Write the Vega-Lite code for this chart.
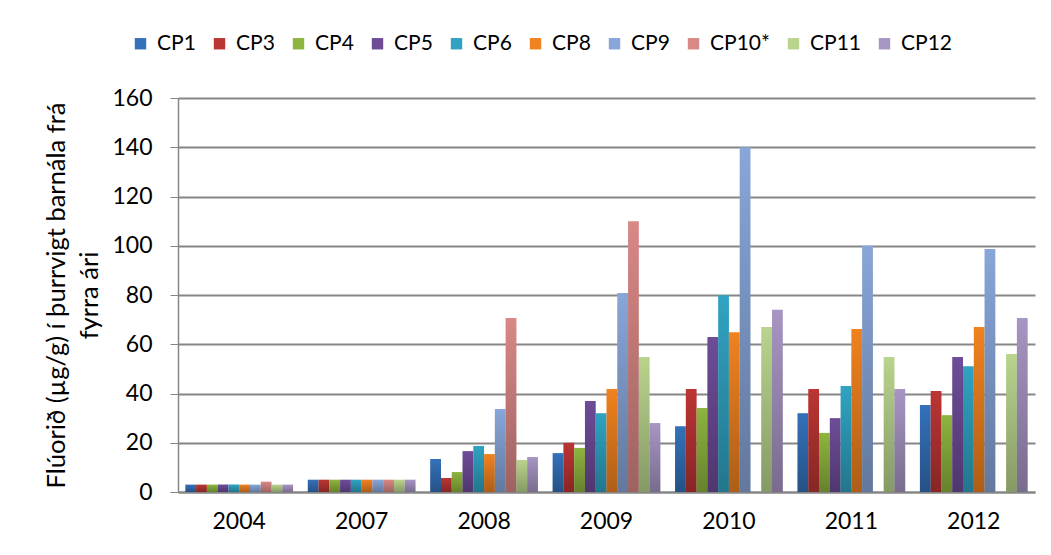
{
  "$schema": "https://vega.github.io/schema/vega-lite/v6.json",
  "width": 857,
  "height": 394,
  "autosize": {"type": "none"},
  "padding": {"left": 178, "top": 98, "right": 16, "bottom": 63},
  "background": "white",
  "config": {"font": "Lato", "view": {"stroke": null}},
  "data": {
    "values": [
      {"year": "2004", "series": "CP1", "value": 3},
      {"year": "2004", "series": "CP3", "value": 3},
      {"year": "2004", "series": "CP4", "value": 3},
      {"year": "2004", "series": "CP5", "value": 3},
      {"year": "2004", "series": "CP6", "value": 3},
      {"year": "2004", "series": "CP8", "value": 3},
      {"year": "2004", "series": "CP9", "value": 3},
      {"year": "2004", "series": "CP10*", "value": 4.2},
      {"year": "2004", "series": "CP11", "value": 3},
      {"year": "2004", "series": "CP12", "value": 3},
      {"year": "2007", "series": "CP1", "value": 5},
      {"year": "2007", "series": "CP3", "value": 5},
      {"year": "2007", "series": "CP4", "value": 5},
      {"year": "2007", "series": "CP5", "value": 5},
      {"year": "2007", "series": "CP6", "value": 5},
      {"year": "2007", "series": "CP8", "value": 5},
      {"year": "2007", "series": "CP9", "value": 5},
      {"year": "2007", "series": "CP10*", "value": 5},
      {"year": "2007", "series": "CP11", "value": 5},
      {"year": "2007", "series": "CP12", "value": 5},
      {"year": "2008", "series": "CP1", "value": 13.4},
      {"year": "2008", "series": "CP3", "value": 5.7},
      {"year": "2008", "series": "CP4", "value": 8.1},
      {"year": "2008", "series": "CP5", "value": 16.6},
      {"year": "2008", "series": "CP6", "value": 18.7},
      {"year": "2008", "series": "CP8", "value": 15.4},
      {"year": "2008", "series": "CP9", "value": 33.7},
      {"year": "2008", "series": "CP10*", "value": 70.7},
      {"year": "2008", "series": "CP11", "value": 13},
      {"year": "2008", "series": "CP12", "value": 14.2},
      {"year": "2009", "series": "CP1", "value": 15.8},
      {"year": "2009", "series": "CP3", "value": 20},
      {"year": "2009", "series": "CP4", "value": 17.9},
      {"year": "2009", "series": "CP5", "value": 37},
      {"year": "2009", "series": "CP6", "value": 32},
      {"year": "2009", "series": "CP8", "value": 41.8},
      {"year": "2009", "series": "CP9", "value": 80.8},
      {"year": "2009", "series": "CP10*", "value": 110},
      {"year": "2009", "series": "CP11", "value": 54.8},
      {"year": "2009", "series": "CP12", "value": 28},
      {"year": "2010", "series": "CP1", "value": 26.7},
      {"year": "2010", "series": "CP3", "value": 41.8},
      {"year": "2010", "series": "CP4", "value": 34.1},
      {"year": "2010", "series": "CP5", "value": 62.9},
      {"year": "2010", "series": "CP6", "value": 79.9},
      {"year": "2010", "series": "CP8", "value": 64.9},
      {"year": "2010", "series": "CP9", "value": 140},
      {"year": "2010", "series": "CP11", "value": 67},
      {"year": "2010", "series": "CP12", "value": 74},
      {"year": "2011", "series": "CP1", "value": 32},
      {"year": "2011", "series": "CP3", "value": 41.8},
      {"year": "2011", "series": "CP4", "value": 24},
      {"year": "2011", "series": "CP5", "value": 30},
      {"year": "2011", "series": "CP6", "value": 43},
      {"year": "2011", "series": "CP8", "value": 66.2},
      {"year": "2011", "series": "CP9", "value": 100},
      {"year": "2011", "series": "CP11", "value": 54.8},
      {"year": "2011", "series": "CP12", "value": 41.8},
      {"year": "2012", "series": "CP1", "value": 35.3},
      {"year": "2012", "series": "CP3", "value": 41},
      {"year": "2012", "series": "CP4", "value": 31.2},
      {"year": "2012", "series": "CP5", "value": 54.8},
      {"year": "2012", "series": "CP6", "value": 51.1},
      {"year": "2012", "series": "CP8", "value": 67},
      {"year": "2012", "series": "CP9", "value": 98.7},
      {"year": "2012", "series": "CP11", "value": 56},
      {"year": "2012", "series": "CP12", "value": 70.7}
    ]
  },
  "encoding": {
    "x": {
      "field": "year",
      "type": "nominal",
      "scale": {"paddingInner": 0.12, "paddingOuter": 0.06},
      "axis": {
        "title": null,
        "labelAngle": 0,
        "ticks": false,
        "labelFontSize": 23,
        "labelColor": "#000000",
        "labelPadding": 18,
        "domainColor": "#868686",
        "domainWidth": 2,
        "grid": false
      }
    },
    "xOffset": {
      "field": "series",
      "type": "nominal",
      "scale": {
        "domain": ["CP1", "CP3", "CP4", "CP5", "CP6", "CP8", "CP9", "CP10*", "CP11", "CP12"],
        "paddingInner": 0,
        "paddingOuter": 0
      }
    },
    "y": {
      "field": "value",
      "type": "quantitative",
      "scale": {"domain": [0, 160], "nice": false},
      "axis": {
        "values": [0, 20, 40, 60, 80, 100, 120, 140, 160],
        "grid": true,
        "gridColor": "#868686",
        "gridWidth": 2,
        "domainColor": "#868686",
        "domainWidth": 1.5,
        "tickColor": "#868686",
        "tickSize": 8,
        "labelPadding": 18,
        "labelFontSize": 23,
        "labelColor": "#000000",
        "title": ["Flúorið (µg/g) í þurrvigt  barnála frá", "fyrra ári"],
        "titleFontSize": 25.5,
        "titleFontWeight": "normal",
        "titleColor": "#000000",
        "titleLineHeight": 33,
        "titlePadding": 9
      }
    }
  },
  "layer": [
    {
      "mark": {"type": "bar"},
      "encoding": {
        "color": {
          "field": "series",
          "type": "nominal",
          "scale": {
            "domain": ["CP1", "CP3", "CP4", "CP5", "CP6", "CP8", "CP9", "CP10*", "CP11", "CP12"],
            "range": ["#3371B9", "#BB3533", "#8DB43E", "#6E4C98", "#30A3C2", "#F0821F", "#88A6D9", "#D98886", "#B9D48D", "#A795C3"]
          },
          "legend": {
            "orient": "none",
            "legendX": -48,
            "legendY": -65,
            "direction": "horizontal",
            "title": null,
            "symbolType": "square",
            "symbolSize": 130,
            "symbolStrokeWidth": 0,
            "labelFontSize": 21,
            "labelColor": "#000000",
            "labelOffset": 6,
            "columnPadding": 13
          }
        }
      }
    },
    {
      "mark": {
        "type": "bar",
        "fill": {
          "gradient": "linear",
          "x1": 0, "y1": 0, "x2": 0, "y2": 1,
          "stops": [
            {"offset": 0, "color": "rgba(0,0,0,0)"},
            {"offset": 1, "color": "rgba(0,0,0,0.28)"}
          ]
        }
      },
      "encoding": {}
    }
  ]
}
